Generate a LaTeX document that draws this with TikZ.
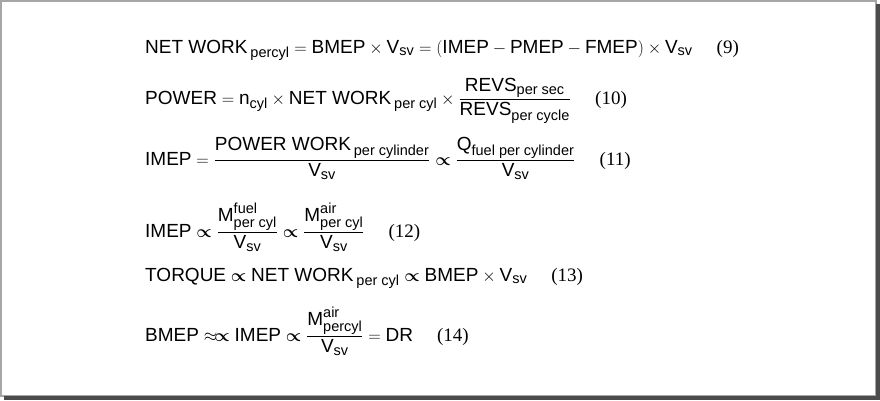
\documentclass[tikz,border=0pt]{standalone}
\usepackage{amsmath}
\usepackage{fontspec}
\setmainfont{Liberation Sans}
\newfontfamily\numfont{Liberation Serif}
\DeclareMathSizes{19}{19}{14.5}{11}
\newcommand{\T}[1]{\text{#1}}
\newcommand{\pr}{\mathrel{\boldsymbol{\propto}}}
\newcommand{\eqn}[1]{\hspace{24pt}\text{\numfont(#1)}}
\begin{document}
\begin{tikzpicture}[x=1pt,y=-1pt,
  eq/.style={anchor=base west,inner sep=0pt,font=\fontsize{19}{23}\selectfont}]
\useasboundingbox (0,0) rectangle (880,400);
\fill[white] (0,0) rectangle (880,400);
\draw[gray!70,line width=1.5] (1,1) rectangle (876,396);
\fill[gray!60!black] (876,4) rectangle (880,400);
\fill[gray!60!black] (4,396) rectangle (880,400);
\node[eq] (e9) at (145,53) {$\T{NET WORK}\,_{\T{percyl}} = \T{BMEP}\times \T{V}_{\T{sv}} = (\T{IMEP} - \T{PMEP} - \T{FMEP})\times \T{V}_{\T{sv}}\eqn{9}$};
\node[eq] (e10) at (145,104) {$\T{POWER} = \T{n}_{\T{cyl}}\times\T{NET WORK}\,_{\T{per cyl}}\times\dfrac{\T{REVS}_{\T{per sec}}}{\T{REVS}_{\T{per cycle}}}\eqn{10}$};
\node[eq] (e11) at (145,165) {$\T{IMEP} = \dfrac{\T{POWER WORK}\,_{\T{per cylinder}}}{\T{V}_{\T{sv}}}\pr\dfrac{\T{Q}_{\T{fuel per cylinder}}}{\T{V}_{\T{sv}}}\eqn{11}$};
\node[eq] (e12) at (145,237) {$\T{IMEP}\pr\dfrac{\T{M}^{\T{fuel}}_{\T{per cyl}}}{\T{V}_{\T{sv}}}\pr\dfrac{\T{M}^{\T{air}}_{\T{per cyl}}}{\T{V}_{\T{sv}}}\eqn{12}$};
\node[eq] (e13) at (145,281) {$\T{TORQUE}\pr\T{NET WORK}\,_{\T{per cyl}}\pr\T{BMEP}\times\T{V}_{\T{sv}}\eqn{13}$};
\node[eq] (e14) at (145,341) {$\T{BMEP}\approx\!\pr\T{IMEP}\pr\dfrac{\T{M}^{\T{air}}_{\T{percyl}}}{\T{V}_{\T{sv}}}=\T{DR}\eqn{14}$};
\end{tikzpicture}
\end{document}
